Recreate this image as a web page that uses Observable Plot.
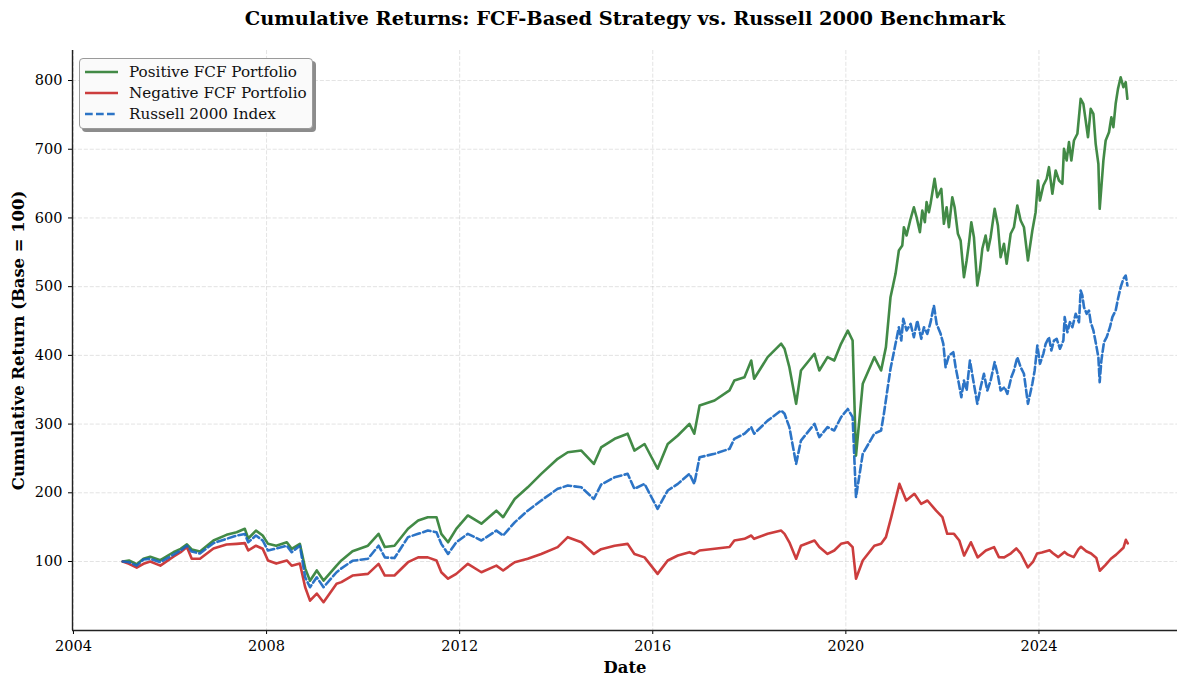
<!DOCTYPE html>
<html>
<head>
<meta charset="utf-8">
<script src="https://cdn.jsdelivr.net/npm/d3@7"></script>
<script src="https://cdn.jsdelivr.net/npm/@observablehq/plot@0.6"></script>
<style>
  html, body { margin: 0; padding: 0; background: #fff; }
  #wrap { position: relative; width: 1187px; height: 686px; font-family: "DejaVu Serif", serif; }
  .legend { position: absolute; left: 79px; top: 58px; width: 232px; height: 69px;
    border: 1px solid #9a9a9a; border-radius: 4px; background: #fafafa;
    box-shadow: 3px 3px 0 #8c8c8c; box-sizing: content-box; }
  .row { position: absolute; left: 5px; height: 20px; display: flex; align-items: center; }
  .row svg { width: 33px; height: 6px; margin-right: 11px; }
  .row span { font-size: 15.2px; color: #111; white-space: nowrap; }
</style>
</head>
<body>
<div id="wrap"></div>
<script>
// Positive FCF Portfolio (decimal-year dates, values)
const posDates = [2005.02,2005.15,2005.31,2005.45,2005.59,2005.80,2006.07,2006.22,2006.35,2006.45,2006.62,2006.90,2007.17,2007.38,2007.55,2007.62,2007.78,2007.92,2008.03,2008.20,2008.42,2008.52,2008.69,2008.80,2008.90,2009.04,2009.18,2009.45,2009.55,2009.78,2010.10,2010.32,2010.45,2010.65,2010.93,2011.14,2011.34,2011.52,2011.62,2011.76,2011.93,2012.17,2012.45,2012.76,2012.90,2013.14,2013.41,2013.69,2014.03,2014.24,2014.52,2014.78,2014.93,2015.21,2015.48,2015.62,2015.83,2016.10,2016.31,2016.52,2016.76,2016.86,2016.97,2017.28,2017.59,2017.69,2017.90,2018.04,2018.10,2018.38,2018.66,2018.73,2018.83,2018.97,2019.07,2019.35,2019.45,2019.62,2019.76,2019.90,2020.04,2020.14,2020.21,2020.35,2020.59,2020.73,2020.83,
2020.925,2021.029,2021.098,2021.169,2021.202,2021.258,2021.341,2021.409,2021.465,2021.534,2021.583,2021.637,2021.672,2021.720,2021.755,2021.838,2021.894,2021.977,2022.031,2022.087,2022.135,2022.205,2022.253,2022.321,2022.377,2022.446,2022.502,2022.549,2022.599,2022.653,2022.723,2022.777,2022.827,2022.895,2022.943,2022.999,2023.082,2023.150,2023.206,2023.275,2023.331,2023.414,2023.482,2023.552,2023.621,2023.689,2023.772,2023.863,2023.931,2023.979,2024.021,2024.091,2024.160,2024.207,2024.278,2024.346,2024.415,2024.485,2024.518,2024.574,2024.622,2024.671,2024.725,2024.796,2024.864,2024.920,2024.968,2025.016,2025.072,2025.128,2025.175,2025.231,2025.258,2025.293,2025.335,2025.382,2025.451,2025.500,2025.542,2025.589,2025.637,2025.693,2025.749,2025.797,2025.832];
const posValues = [100,101.5,96,104,107,102,113.5,118.5,125,117.5,114.5,130.6,138.8,142.7,147.6,133.5,145,137.8,125.7,123,128,118.5,125.7,90,72,87,72.3,94,101.5,115,123,140.3,121,123,147.6,159.7,164.5,164.5,140.3,128,147.6,167,155,174,164.5,191,208,227.6,249.5,259,261.5,242,266,278.6,286,261.5,271,235,271,283.4,300.4,286,327,334.3,349,363.4,368.3,392.5,366,397.4,417,409.7,382.8,329.5,378,402.3,378,397.4,392.5,416.8,436,421.6,254,358.6,397.4,378,412,
484.7,518.7,552.6,560,586.5,574.5,598.8,615.6,601,579.3,610.8,593.8,623,608.4,620.6,657,630.2,642.4,591.5,615.6,586.5,630.2,615.6,576.9,567.2,513.8,538.1,562.4,593.8,572,501.7,523.5,555.1,574.5,552.6,572,613.3,589,542.9,562.4,533.3,577,586.5,618.1,596.3,586.5,538.1,581.7,608.4,654.5,625.4,647.2,657,673.9,635.2,669.1,654.5,649.7,700.6,683.6,710.3,683.6,712.7,722.5,773.4,766.1,741.8,717.5,758.8,751.6,707.9,678.8,613.3,644.7,683.6,712.7,724.8,746.6,732.1,766.1,787.9,804.8,790.3,797.6,773.4];

// Negative FCF Portfolio
const negDates = [2005.02,2005.15,2005.31,2005.45,2005.59,2005.80,2006.07,2006.22,2006.35,2006.45,2006.62,2006.90,2007.17,2007.38,2007.55,2007.62,2007.78,2007.92,2008.03,2008.20,2008.42,2008.52,2008.69,2008.80,2008.90,2009.04,2009.18,2009.45,2009.55,2009.78,2010.10,2010.32,2010.45,2010.65,2010.93,2011.14,2011.34,2011.52,2011.62,2011.76,2011.93,2012.17,2012.45,2012.76,2012.90,2013.14,2013.41,2013.69,2014.03,2014.24,2014.52,2014.78,2014.93,2015.21,2015.48,2015.62,2015.83,2016.10,2016.31,2016.52,2016.76,2016.86,2016.97,2017.28,2017.59,2017.69,2017.90,2018.04,2018.10,2018.38,2018.66,2018.73,2018.83,2018.97,2019.07,2019.35,2019.45,2019.62,2019.76,2019.90,2020.04,2020.14,2020.21,2020.35,2020.59,2020.73,2020.83,2020.94,2021.11,2021.25,2021.42,2021.56,2021.69,2021.87,2022.00,2022.10,2022.24,2022.35,2022.45,2022.59,2022.73,2022.90,2023.07,
2023.17,2023.28,2023.42,2023.53,2023.62,2023.77,2023.88,2023.96,2024.06,2024.22,2024.29,2024.40,2024.53,2024.60,2024.72,2024.82,2024.87,2024.98,2025.08,2025.19,2025.26,2025.38,2025.49,2025.60,2025.75,2025.80,2025.84];
const negValues = [100,96.6,91,96.6,100,94,107,113.6,121,104,104,119,124.7,125.7,126.7,116,123,118.5,101.5,97,101.5,94,97,62.6,43,53.4,40.8,67.5,70,79.6,82,96.6,79.6,79.6,99,106,106,101.5,84.4,75,82,96.6,84.4,94,87,99,104,111,121,135.4,128,111,118,123,125.7,111,106,82,101.5,108.7,113.6,111,116,118.5,121,130.6,133,137.8,133,140.3,145,140.3,128,104,123,130.6,121,111,116,125.7,128,121,75,101.5,123,125.7,135.5,164.5,213,188.8,198.5,183.9,188.8,174,164.5,140.3,140.3,130.6,108.7,128,106,116,121,
106.4,106,112,119,112,91.4,100,111.6,113,116.4,112,106.4,114,110,106.4,118,121.5,115,111.6,105,86.5,95,104,110,120,131.6,126.5];

// Russell 2000 Index
const idxDates = [2005.02,2005.15,2005.31,2005.45,2005.59,2005.80,2006.07,2006.22,2006.35,2006.45,2006.62,2006.90,2007.17,2007.38,2007.55,2007.62,2007.78,2007.92,2008.03,2008.20,2008.42,2008.52,2008.69,2008.80,2008.90,2009.04,2009.18,2009.45,2009.55,2009.78,2010.10,2010.32,2010.45,2010.65,2010.93,2011.14,2011.34,2011.52,2011.62,2011.76,2011.93,2012.17,2012.45,2012.76,2012.90,2013.14,2013.41,2013.69,2014.03,2014.24,2014.52,2014.78,2014.93,2015.21,2015.48,2015.62,2015.83,2016.10,2016.31,2016.52,2016.76,2016.86,2016.97,2017.28,2017.59,2017.69,2017.90,2018.04,2018.10,2018.38,2018.66,2018.73,2018.83,2018.97,2019.07,2019.35,2019.45,2019.62,2019.76,2019.90,2020.04,2020.14,2020.21,2020.35,2020.59,2020.73,
2020.788,2020.858,2020.925,2021.029,2021.098,2021.148,2021.189,2021.258,2021.341,2021.409,2021.479,2021.562,2021.617,2021.687,2021.755,2021.824,2021.880,2021.963,2022.019,2022.066,2022.135,2022.226,2022.274,2022.342,2022.392,2022.446,2022.502,2022.570,2022.640,2022.723,2022.792,2022.860,2022.930,2022.999,2023.082,2023.150,2023.206,2023.289,2023.345,2023.428,2023.482,2023.552,2023.621,2023.689,2023.772,2023.863,2023.911,2023.967,2024.021,2024.091,2024.139,2024.207,2024.257,2024.311,2024.367,2024.435,2024.506,2024.533,2024.589,2024.642,2024.692,2024.761,2024.829,2024.864,2024.899,2024.933,2024.989,2025.036,2025.072,2025.128,2025.175,2025.231,2025.258,2025.293,2025.347,2025.403,2025.471,2025.521,2025.589,2025.637,2025.693,2025.749,2025.797,2025.832];
const idxValues = [100,99,94,103,104,99,110,116,123,114.5,111.6,126.7,133,137.8,140,128,137.8,130.6,116,119,123,113.6,123,77,62.6,77,62.6,84.4,90,101,104,123,106,105,135.5,140.3,145,142.7,125.7,111,128,140.3,130.6,145,137.8,157,174,188.8,205.8,210.6,208,191,212,222.7,227.6,205.8,213,176.7,203.3,213,227.6,213,251.8,256.7,264,278.6,286,295.5,286,305,319.8,315,295.5,242,276,300.4,281,295.5,290.7,310,322,310,193.6,256.7,286,290.7,
315,348.9,380.5,416.8,441,421.6,453.2,436.2,445.9,426.5,450.7,424.1,441,431.4,448.3,472.6,445.9,431.4,416.8,382.8,399.8,404.6,382.8,358.6,339.1,363.4,348.9,392.5,363.4,329.5,353.7,373.2,348.9,363.4,390.1,370.7,348.9,353.7,344,368.2,378,397.4,382.8,373.2,329.5,358.6,378,414.4,387.7,402.3,416.8,426.5,407.1,421.6,424.1,409.6,421.6,455.6,433.7,448.3,441,460.5,448.3,494.4,487.1,470.1,460.5,465.3,448.3,436.2,419.2,397.4,361,392.5,419.2,426.5,441,455.6,465.3,482.3,499.2,511.4,516.2,501.7];

const seriesNames = ["Positive FCF Portfolio", "Negative FCF Portfolio", "Russell 2000 Index"];
const xTicks = [2004, 2008, 2012, 2016, 2020, 2024];
const yTicks = [100, 200, 300, 400, 500, 600, 700, 800];
const titleText = "Cumulative Returns: FCF-Based Strategy vs. Russell 2000 Benchmark";
const xLabel = "Date";
const yLabel = "Cumulative Return (Base = 100)";

const colors = { pos: "#2E7D32", neg: "#C62828", idx: "#1565C0" };

const toRows = (ts, vs) => ts.map((t, i) => ({ t, v: vs[i] }));
const posRows = toRows(posDates, posValues);
const negRows = toRows(negDates, negValues);
const idxRows = toRows(idxDates, idxValues);

const xDom = [2003.98, 2026.87];
const yDom = [-0.4, 843.7];

const chart = Plot.plot({
  width: 1187,
  height: 686,
  marginLeft: 72,
  marginRight: 10,
  marginTop: 50,
  marginBottom: 56,
  style: { fontFamily: "DejaVu Serif, serif", background: "white", color: "black" },
  x: { domain: xDom, label: null },
  y: { domain: yDom, label: null },
  marks: [
    Plot.gridX(xTicks, { stroke: "#b0b0b0", strokeOpacity: 0.35, strokeDasharray: "4.1,1.8", strokeWidth: 1 }),
    Plot.gridY(yTicks, { stroke: "#b0b0b0", strokeOpacity: 0.35, strokeDasharray: "4.1,1.8", strokeWidth: 1 }),
    Plot.axisX(xTicks, { tickFormat: d => String(d), tickSize: 4, tickPadding: 6, fontSize: 14.5, label: null }),
    Plot.axisY(yTicks, { tickFormat: d => String(d), tickSize: 4, tickPadding: 6, fontSize: 14.5, label: null }),
    Plot.line(posRows, { x: "t", y: "v", stroke: colors.pos, strokeOpacity: 0.9, strokeWidth: 2.6, strokeLinejoin: "round" }),
    Plot.line(negRows, { x: "t", y: "v", stroke: colors.neg, strokeOpacity: 0.9, strokeWidth: 2.6, strokeLinejoin: "round" }),
    Plot.line(idxRows, { x: "t", y: "v", stroke: colors.idx, strokeOpacity: 0.9, strokeWidth: 2.6, strokeDasharray: "7.7,3.3", strokeLinejoin: "round" }),
    Plot.ruleX([xDom[0]], { stroke: "#222", strokeWidth: 1.4 }),
    Plot.ruleY([yDom[0]], { stroke: "#222", strokeWidth: 1.4 }),
    Plot.text([titleText], { text: d => d, frameAnchor: "top", lineAnchor: "middle", dy: -32, fontSize: 19.4, fontWeight: "bold", fill: "black" }),
    Plot.text([xLabel], { text: d => d, frameAnchor: "bottom", lineAnchor: "middle", textAnchor: "middle", dy: 37, fontSize: 16.4, fontWeight: "bold", fill: "black" }),
    Plot.text([yLabel], { text: d => d, frameAnchor: "left", textAnchor: "middle", lineAnchor: "middle", dx: -54, rotate: -90, fontSize: 16.4, fontWeight: "bold", fill: "black" })
  ]
});

const wrap = document.getElementById("wrap");
wrap.appendChild(chart);

// Legend
const legend = document.createElement("div");
legend.className = "legend";
const legendItems = [
  { name: seriesNames[0], color: colors.pos, dash: null },
  { name: seriesNames[1], color: colors.neg, dash: null },
  { name: seriesNames[2], color: colors.idx, dash: "7.7,3.3" }
];
legendItems.forEach((it, i) => {
  const row = document.createElement("div");
  row.className = "row";
  row.style.top = (3 + i * 21) + "px";
  row.innerHTML = `<svg viewBox="0 0 33 6"><line x1="0" y1="3" x2="33" y2="3" stroke="${it.color}" stroke-opacity="0.9" stroke-width="2.3" ${it.dash ? `stroke-dasharray="${it.dash}"` : ""}/></svg><span>${it.name}</span>`;
  legend.appendChild(row);
});
wrap.appendChild(legend);
</script>
</body>
</html>
